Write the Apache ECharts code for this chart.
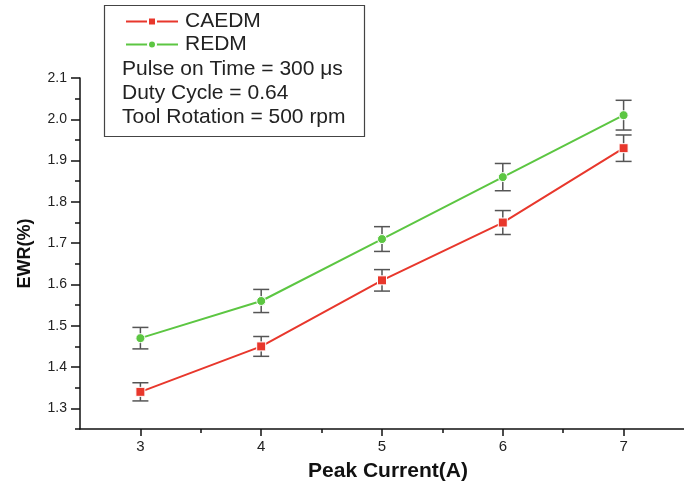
<!DOCTYPE html>
<html>
<head>
<meta charset="utf-8">
<script src="https://cdn.jsdelivr.net/npm/echarts@6/dist/echarts.min.js"></script>
<style>
  html, body { margin: 0; padding: 0; background: #fff; }
  #chart { width: 684px; height: 491px; }
</style>
</head>
<body>
<div id="chart"></div>
<script>
// peak current (A)
const currents = [3, 4, 5, 6, 7]
// EWR (%) values and error half-widths
const caedm = [1.34, 1.45, 1.61, 1.75, 1.93]
const caedmErr = [0.022, 0.024, 0.026, 0.029, 0.032]
const redm = [1.47, 1.56, 1.71, 1.86, 2.01]
const redmErr = [0.026, 0.028, 0.030, 0.033, 0.036]
// axis ticks
const xTicks = [3, 4, 5, 6, 7]
const xMinorTicks = [3.5, 4.5, 5.5, 6.5]
const yTicks = [1.3, 1.4, 1.5, 1.6, 1.7, 1.8, 1.9, 2.0, 2.1]
const yMinorTicks = [1.25, 1.35, 1.45, 1.55, 1.65, 1.75, 1.85, 1.95, 2.05]
const infoLines = ['Pulse on Time = 300 \u03bcs', 'Duty Cycle = 0.64', 'Tool Rotation = 500 rpm']

const FONT = 'Liberation Sans, Arial, sans-serif'
const RED = '#e8372c'
const GREEN = '#5cc642'
const BAR = '#555555'

const chart = echarts.init(document.getElementById('chart'))

// error bar drawing: value = [x, low, high]
const renderErrorBar = (params, api) => {
  const x = api.value(0)
  const hi = api.coord([x, api.value(2)])
  const lo = api.coord([x, api.value(1)])
  const half = 8
  const style = { stroke: BAR, lineWidth: 1.5 }
  return {
    type: 'group',
    children: [
      { type: 'line', shape: { x1: hi[0], y1: hi[1], x2: lo[0], y2: lo[1] }, style },
      { type: 'line', shape: { x1: hi[0] - half, y1: hi[1], x2: hi[0] + half, y2: hi[1] }, style },
      { type: 'line', shape: { x1: lo[0] - half, y1: lo[1], x2: lo[0] + half, y2: lo[1] }, style }
    ]
  }
}

const errData = (vals, errs) => currents.map((c, i) => [c, vals[i] - errs[i], vals[i] + errs[i]])

const axisLineStyle = { color: '#111', width: 1.5 }

const option = {
  animation: false,
  backgroundColor: '#fff',
  textStyle: { fontFamily: FONT },
  grid: { left: 80, top: 78, width: 609, height: 351 },
  legend: {
    orient: 'vertical',
    left: 120,
    top: 6,
    itemWidth: 52,
    itemHeight: 10,
    itemGap: 2,
    data: ['CAEDM', 'REDM'],
    textStyle: { fontSize: 21, color: '#222', fontFamily: FONT, padding: [0, 0, 0, 2] }
  },
  graphic: [
    {
      type: 'rect',
      left: 102,
      top: 3,
      shape: { width: 260, height: 131 },
      style: { fill: 'none', stroke: '#444', lineWidth: 1.2 }
    },
    ...infoLines.map((t, i) => ({
      type: 'text',
      left: 122,
      top: 59 + i * 24,
      style: { text: t, fontSize: 21, fill: '#222', fontFamily: FONT }
    }))
  ],
  xAxis: [
    {
      type: 'value',
      min: 2.5,
      max: 7.5,
      name: 'Peak Current(A)',
      nameLocation: 'middle',
      nameGap: 32,
      nameTextStyle: { fontSize: 21, fontWeight: 'bold', color: '#111', fontFamily: FONT, padding: [0, 0, 0, 12] },
      splitLine: { show: false },
      axisLine: { lineStyle: axisLineStyle },
      axisTick: { customValues: xTicks, length: 7, lineStyle: { color: '#111', width: 1.5 } },
      axisLabel: { customValues: xTicks, fontSize: 15, color: '#222', margin: 10 }
    },
    {
      type: 'value',
      min: 2.5,
      max: 7.5,
      position: 'bottom',
      splitLine: { show: false },
      axisLine: { show: false },
      axisTick: { customValues: xMinorTicks, length: 4, lineStyle: { color: '#111', width: 1.5 } },
      axisLabel: { show: false }
    }
  ],
  yAxis: [
    {
      type: 'value',
      min: 1.25,
      max: 2.1,
      name: 'EWR(%)',
      nameLocation: 'middle',
      nameRotate: 90,
      nameGap: 46,
      nameTextStyle: { fontSize: 18, fontWeight: 'bold', color: '#111', fontFamily: FONT },
      splitLine: { show: false },
      axisLine: { show: true, lineStyle: axisLineStyle },
      axisTick: { customValues: yTicks, length: 9, lineStyle: { color: '#111', width: 1.5 } },
      axisLabel: {
        customValues: yTicks,
        fontSize: 14,
        color: '#222',
        margin: 13,
        formatter: (v) => v.toFixed(1)
      }
    },
    {
      type: 'value',
      min: 1.25,
      max: 2.1,
      position: 'left',
      splitLine: { show: false },
      axisLine: { show: false },
      axisTick: { customValues: yMinorTicks, length: 5, lineStyle: { color: '#111', width: 1.5 } },
      axisLabel: { show: false }
    }
  ],
  series: [
    {
      type: 'custom',
      name: 'caedm-err',
      renderItem: renderErrorBar,
      encode: { x: 0, y: [1, 2] },
      data: errData(caedm, caedmErr),
      z: 1
    },
    {
      type: 'custom',
      name: 'redm-err',
      renderItem: renderErrorBar,
      encode: { x: 0, y: [1, 2] },
      data: errData(redm, redmErr),
      z: 1
    },
    {
      name: 'CAEDM',
      type: 'line',
      data: currents.map((c, i) => [c, caedm[i]]),
      symbol: 'rect',
      symbolSize: 9,
      lineStyle: { color: RED, width: 2 },
      itemStyle: { color: RED, borderColor: '#fff', borderWidth: 1 },
      z: 3
    },
    {
      name: 'REDM',
      type: 'line',
      data: currents.map((c, i) => [c, redm[i]]),
      symbol: 'circle',
      symbolSize: 9,
      lineStyle: { color: GREEN, width: 2 },
      itemStyle: { color: GREEN, borderColor: '#fff', borderWidth: 1 },
      z: 3
    }
  ]
}

chart.setOption(option)
window.addEventListener('resize', () => chart.resize())
</script>
</body>
</html>
